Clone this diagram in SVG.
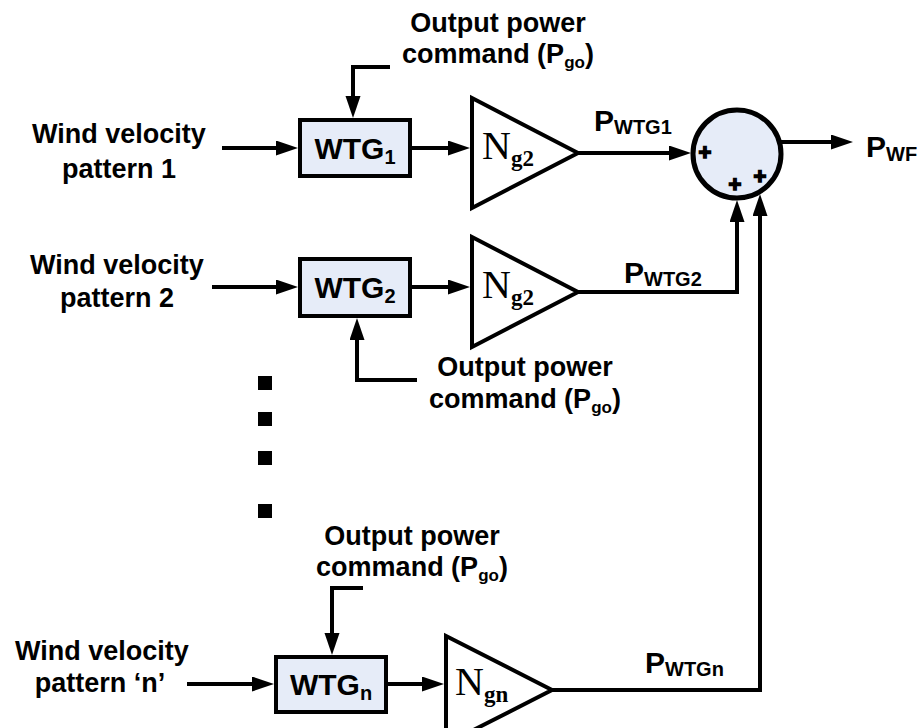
<svg xmlns="http://www.w3.org/2000/svg" width="921" height="728" viewBox="0 0 921 728">
<style>
.t{font-family:"Liberation Sans",Arial,sans-serif;font-weight:bold;font-size:27px;fill:#000}
.w{font-size:30px}
.p{font-size:30px}
.s{font-size:20px}
.ss{font-size:17px}
.n{font-family:"Liberation Serif","Times New Roman",serif;font-size:40px;fill:#000}
.ns{font-weight:bold;font-size:23px}
.box{fill:#E6ECF8;stroke:#000;stroke-width:4}
.tri{fill:#fff;stroke:#000;stroke-width:4}
.arr{fill:none;stroke:#000;stroke-width:4;marker-end:url(#ah)}
.pl{font-family:"Liberation Sans",Arial,sans-serif;font-weight:bold;font-size:22px;fill:#000;stroke:#000;stroke-width:1.6}
</style>
<defs>
<marker id="ah" markerUnits="userSpaceOnUse" markerWidth="24" markerHeight="16" refX="16" refY="7.5" orient="auto">
<path d="M0,0 L22,7.5 L0,15 z" fill="#000"/>
</marker>
</defs>
<rect width="921" height="728" fill="#fff"/>

<g id="connectors">
<path class="arr" d="M222,148 H292"/>
<path class="arr" d="M212,287 H292"/>
<path class="arr" d="M187,684 H268"/>
<path class="arr" d="M390,67 H353 V112"/>
<path class="arr" d="M417,380 H357 V324"/>
<path class="arr" d="M363,588 H332 V649"/>
<path class="arr" d="M412,148 H464"/>
<path class="arr" d="M412,287 H464"/>
<path class="arr" d="M388,684 H438"/>
<path class="arr" d="M578,153 H685"/>
<path class="arr" d="M578,292 H737 V206"/>
<path class="arr" d="M552,690 H760 V200"/>
<path class="arr" d="M781,142 H847"/>
</g>

<g id="wtg1">
<rect class="box" x="300" y="120" width="110" height="56"/>
<text class="t w" x="355" y="159" text-anchor="middle">WTG<tspan class="s" dy="5">1</tspan></text>
</g>
<g id="wtg2">
<rect class="box" x="300" y="259" width="110" height="57"/>
<text class="t w" x="355" y="298" text-anchor="middle">WTG<tspan class="s" dy="5">2</tspan></text>
</g>
<g id="wtgn">
<rect class="box" x="276" y="657" width="110" height="55"/>
<text class="t w" x="331" y="695" text-anchor="middle">WTG<tspan class="s" dy="5">n</tspan></text>
</g>

<g id="gain1">
<polygon class="tri" points="472,98 472,208 578,153"/>
<text class="n" x="482" y="159">N<tspan class="ns" dy="7">g2</tspan></text>
</g>
<g id="gain2">
<polygon class="tri" points="472,237 472,347 578,292"/>
<text class="n" x="482" y="298">N<tspan class="ns" dy="7">g2</tspan></text>
</g>
<g id="gainn">
<polygon class="tri" points="446,636 446,744 552,690"/>
<text class="n" x="455" y="695">N<tspan class="ns" dy="7">gn</tspan></text>
</g>

<g id="sum">
<circle cx="737" cy="154" r="44" fill="#E6ECF8" stroke="#000" stroke-width="5"/>
<text class="pl" x="705" y="160" text-anchor="middle">+</text>
<text class="pl" x="735" y="192" text-anchor="middle">+</text>
<text class="pl" x="760" y="184" text-anchor="middle">+</text>
</g>

<g id="labels">
<text class="t" x="119" y="143" text-anchor="middle">Wind velocity</text>
<text class="t" x="119" y="178" text-anchor="middle">pattern 1</text>
<text class="t" x="117" y="274" text-anchor="middle">Wind velocity</text>
<text class="t" x="117" y="307" text-anchor="middle">pattern 2</text>
<text class="t" x="102" y="660" text-anchor="middle">Wind velocity</text>
<text class="t" x="100" y="692" text-anchor="middle">pattern ‘n’</text>

<text class="t" x="498" y="32" text-anchor="middle">Output power</text>
<text class="t" x="498" y="63" text-anchor="middle">command (P<tspan class="ss" dy="5">go</tspan><tspan dy="-5">)</tspan></text>
<text class="t" x="525" y="376" text-anchor="middle">Output power</text>
<text class="t" x="525" y="408" text-anchor="middle">command (P<tspan class="ss" dy="5">go</tspan><tspan dy="-5">)</tspan></text>
<text class="t" x="412" y="545" text-anchor="middle">Output power</text>
<text class="t" x="412" y="576" text-anchor="middle">command (P<tspan class="ss" dy="5">go</tspan><tspan dy="-5">)</tspan></text>

<text class="t p" x="594" y="131">P<tspan class="s" dy="3">WTG1</tspan></text>
<text class="t p" x="624" y="283">P<tspan class="s" dy="3">WTG2</tspan></text>
<text class="t p" x="645" y="673">P<tspan class="s" dy="3">WTGn</tspan></text>
<text class="t p" x="866" y="157">P<tspan class="s" dy="4">WF</tspan></text>
</g>

<g id="dots">
<rect x="258" y="376" width="14" height="14"/>
<rect x="258" y="412" width="14" height="14"/>
<rect x="258" y="451" width="14" height="14"/>
<rect x="258" y="504" width="14" height="14"/>
</g>
</svg>
